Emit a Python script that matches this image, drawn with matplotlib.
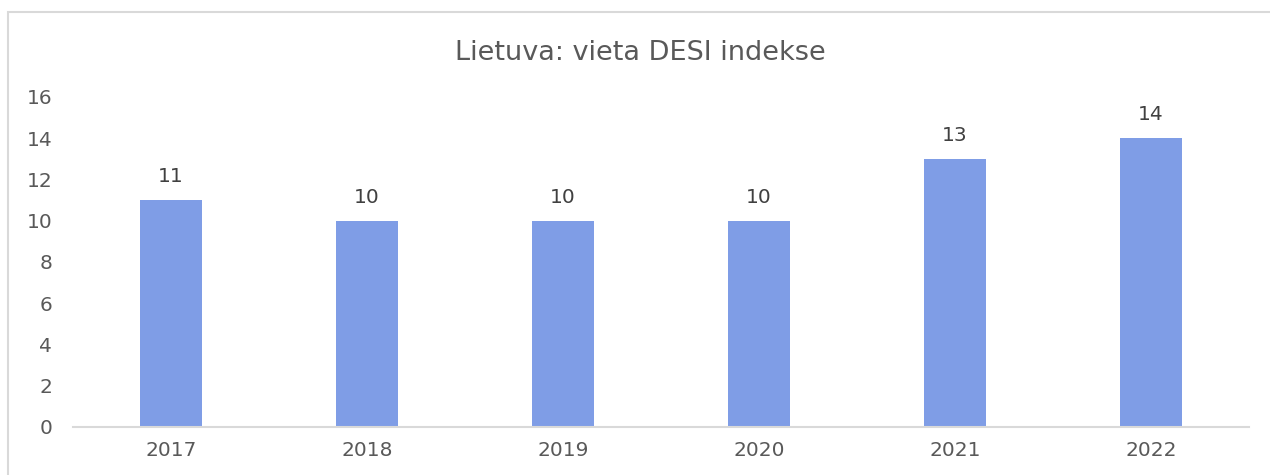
import matplotlib.pyplot as plt
from matplotlib.patches import Rectangle

years = ['2017', '2018', '2019', '2020', '2021', '2022']
places = [11, 10, 10, 10, 13, 14]
title = 'Lietuva: vieta DESI indekse'

W, H = 1270, 475
fig = plt.figure(figsize=(W / 100, H / 100), dpi=100)

# chart frame (cut off at right and bottom)
fig.patches.append(Rectangle((8 / W, -0.1), 1.2, 1 - 12 / H + 0.1, transform=fig.transFigure,
                             fill=False, edgecolor='#D9D9D9', linewidth=1.5))

ax = fig.add_axes([73 / W, 1 - 427 / H, 1176 / W, (427 - 97) / H])
x = range(len(years))
bars = ax.bar(x, places, width=0.315, color='#7F9DE6')
ax.bar_label(bars, padding=10, color='#404040', fontsize=14.5)

ax.set_xlim(-0.5, len(years) - 0.5)
ax.set_ylim(0, 16)
ax.set_yticks(range(0, 17, 2))
ax.set_xticks(list(x))
ax.set_xticklabels(years)
ax.tick_params(length=0, colors='#595959', labelsize=14.5)
ax.tick_params(axis='x', pad=10)
ax.tick_params(axis='y', pad=15)
for s in ['top', 'right', 'left']:
    ax.spines[s].set_visible(False)
ax.spines['bottom'].set_color('#D9D9D9')
ax.spines['bottom'].set_linewidth(1.5)

fig.text(640 / W, 1 - 53 / H, title, ha='center', va='center', fontsize=19.5, color='#595959')

fig.savefig('out.png', dpi=100)
